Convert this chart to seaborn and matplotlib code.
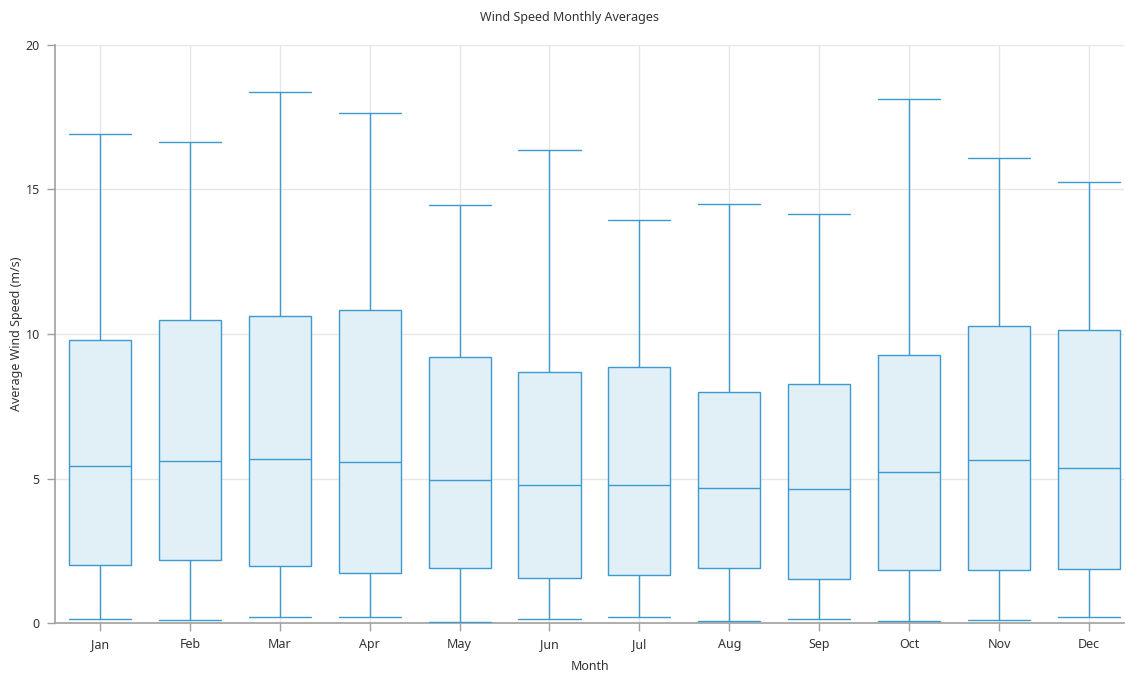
import numpy as np
import pandas as pd
import matplotlib
matplotlib.use("Agg")
import matplotlib.pyplot as plt
import seaborn as sns

months = ["Jan", "Feb", "Mar", "Apr", "May", "Jun", "Jul", "Aug", "Sep", "Oct", "Nov", "Dec"]
mins    = [0.15, 0.10, 0.20, 0.20, 0.02, 0.15, 0.20, 0.07, 0.15, 0.07, 0.10, 0.20]
q1s     = [2.01, 2.17, 1.96, 1.74, 1.89, 1.55, 1.65, 1.89, 1.51, 1.82, 1.82, 1.86]
medians = [5.42, 5.61, 5.69, 5.57, 4.95, 4.76, 4.76, 4.68, 4.64, 5.21, 5.64, 5.37]
q3s     = [9.78, 10.48, 10.61, 10.83, 9.20, 8.70, 8.85, 8.00, 8.28, 9.28, 10.28, 10.14]
maxs    = [16.91, 16.64, 18.38, 17.65, 14.47, 16.37, 13.93, 14.51, 14.16, 18.14, 16.10, 15.25]

rows = []
for m, a, b, c, d, e in zip(months, mins, q1s, medians, q3s, maxs):
    for v in (a, b, c, d, e):
        rows.append({"Month": m, "Speed": v})
df = pd.DataFrame(rows)

sns.set_style("white")
plt.rcParams["font.family"] = ["Noto Sans", "DejaVu Sans"]

edge = "#3d9ad1"
fill = "#e1eff7"
grid = "#e6e6e6"
txt = "#333333"
lw = 1.0

fig = plt.figure(figsize=(11.26, 6.75), dpi=100)
ax = fig.add_axes([55 / 1126, 1 - 623 / 675, (1124 - 55) / 1126, (623 - 45) / 675])

sns.boxplot(
    data=df, x="Month", y="Speed", order=months, ax=ax,
    whis=(0, 100), width=0.69, color=fill, linewidth=lw, linecolor=edge,
    capwidths=0.69,
    boxprops=dict(facecolor=fill, edgecolor=edge, linewidth=lw),
    medianprops=dict(color=edge, linewidth=lw),
    whiskerprops=dict(color=edge, linewidth=lw),
    capprops=dict(color=edge, linewidth=lw),
    zorder=3,
)

ax.set_ylim(0, 20)
ax.set_xlim(-0.5, 11.39)
ax.set_yticks([0, 5, 10, 15, 20])
ax.set_axisbelow(True)
ax.grid(True, axis="both", color=grid, linewidth=1.0, zorder=0)

for s in ["top", "right"]:
    ax.spines[s].set_visible(False)
for s in ["left", "bottom"]:
    ax.spines[s].set_color("#a0a0a0")
    ax.spines[s].set_linewidth(1.2)

ax.tick_params(axis="both", which="major", length=6, width=1, color="#a0a0a0",
               labelcolor=txt, labelsize=9, left=True, bottom=True, pad=5)

ax.set_xlabel("Month", fontsize=9, color=txt)
ax.set_ylabel("Average Wind Speed (m/s)", fontsize=9, color=txt)
ax.xaxis.set_label_coords((590 - 55) / 1069, -(666 - 623) / 578)
ax.yaxis.set_label_coords(-(55 - 17) / 1069, 0.5)
ax.xaxis.label.set_va("center")
ax.yaxis.label.set_va("center")
fig.text(570 / 1126, 1 - 17 / 675, "Wind Speed Monthly Averages", ha="center", va="center",
         fontsize=9, color=txt)

fig.savefig("out.png", dpi=100)
